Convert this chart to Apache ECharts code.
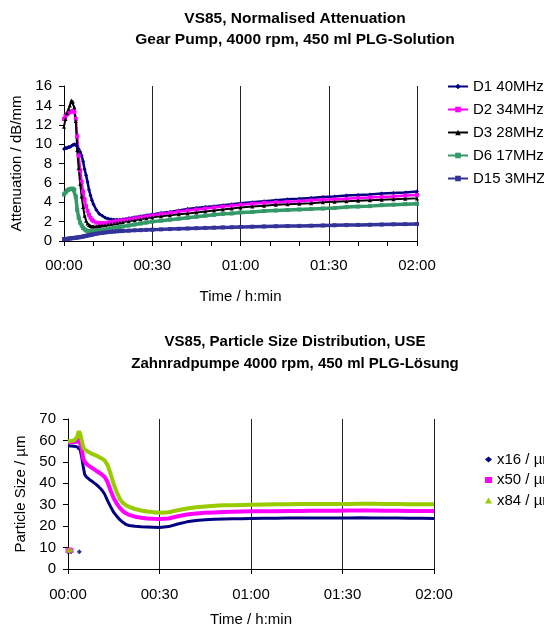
<!DOCTYPE html>
<html>
<head>
<meta charset="utf-8">
<script src="https://cdn.jsdelivr.net/npm/echarts@6/dist/echarts.min.js"></script>
<style>
  html, body { margin: 0; padding: 0; background: #fff; }
  #top, #bottom { position: absolute; left: 0; width: 544px; height: 314px; }
  #top { top: 0; }
  #bottom { top: 314px; }
</style>
</head>
<body>
<div id="top"></div>
<div id="bottom"></div>
<script>
// time in minutes since start
var minutes = [0,0.5,1,1.5,2,2.5,3,3.5,4,4.5,5,5.5,6,6.5,7,7.5,8,8.5,9,9.5,10,11,12,13,14,15,16,17,18,19,20,22,24,26,28,30,33,36,39,42,45,48,51,54,57,60,64,68,72,76,80,84,88,92,96,100,104,108,112,116,120];

// attenuation, dB/mm
var d1 = [9.5,9.6,9.6,9.7,9.7,9.8,9.9,10.0,9.9,9.8,9.5,9.2,8.8,8.2,7.4,6.8,6.1,5.3,4.7,4.2,3.8,3.2,2.8,2.6,2.4,2.3,2.25,2.2,2.2,2.2,2.25,2.35,2.45,2.55,2.65,2.75,2.9,3.0,3.15,3.3,3.4,3.5,3.6,3.7,3.8,3.9,4.0,4.1,4.2,4.3,4.35,4.45,4.55,4.6,4.7,4.75,4.8,4.9,4.95,5.0,5.1];
var d2 = [12.6,12.9,13.1,13.2,13.3,13.4,13.4,13.3,12.6,10.8,8.8,7.3,6.1,5.1,4.3,3.6,3.1,2.7,2.4,2.2,2.05,1.9,1.85,1.85,1.85,1.9,1.95,2.0,2.05,2.1,2.15,2.25,2.35,2.45,2.55,2.65,2.8,2.9,3.05,3.15,3.25,3.35,3.45,3.55,3.65,3.75,3.85,3.95,4.0,4.05,4.1,4.2,4.25,4.3,4.35,4.45,4.5,4.55,4.6,4.7,4.75];
var d3 = [11.8,12.6,13.2,13.6,14.0,14.5,14.4,13.8,12.4,9.4,7.5,5.9,4.6,3.5,2.6,2.1,1.8,1.65,1.55,1.5,1.5,1.5,1.55,1.6,1.65,1.7,1.75,1.8,1.85,1.9,1.95,2.05,2.15,2.25,2.35,2.45,2.55,2.65,2.75,2.85,2.95,3.05,3.15,3.25,3.35,3.45,3.55,3.65,3.75,3.8,3.85,3.9,4.0,4.05,4.1,4.15,4.2,4.25,4.3,4.35,4.4];
var d6 = [4.8,5.0,5.2,5.3,5.35,5.4,5.4,5.3,4.6,3.2,2.4,1.9,1.6,1.35,1.2,1.1,1.0,1.0,1.0,1.0,1.0,1.05,1.1,1.15,1.2,1.25,1.3,1.35,1.4,1.45,1.5,1.6,1.7,1.8,1.9,2.0,2.1,2.2,2.3,2.4,2.5,2.6,2.7,2.8,2.85,2.95,3.0,3.1,3.15,3.2,3.25,3.3,3.35,3.4,3.5,3.55,3.6,3.7,3.75,3.8,3.85];
var d15 = [0.2,0.2,0.22,0.24,0.26,0.28,0.3,0.32,0.34,0.36,0.38,0.4,0.43,0.46,0.5,0.53,0.56,0.6,0.63,0.66,0.7,0.75,0.8,0.84,0.88,0.92,0.95,0.98,1.0,1.02,1.04,1.07,1.1,1.12,1.15,1.17,1.2,1.23,1.26,1.29,1.32,1.35,1.38,1.4,1.42,1.45,1.48,1.5,1.52,1.54,1.56,1.58,1.6,1.62,1.64,1.66,1.68,1.7,1.72,1.74,1.75];

// particle size, µm
var x16 = [57.5,57.5,57.4,57.3,57.3,57.2,57.0,56.5,55.5,52.3,47.7,44.0,43.0,42.3,41.8,41.3,40.8,40.2,39.7,39.2,38.5,37.0,35.0,31.8,29.0,26.4,24.6,23.0,21.8,20.8,20.3,19.9,19.7,19.6,19.5,19.4,19.8,21.0,22.0,22.6,23.0,23.2,23.3,23.4,23.5,23.6,23.7,23.7,23.8,23.8,23.8,23.8,23.8,23.8,23.9,23.8,23.8,23.8,23.7,23.7,23.6];
var x50 = [59.0,59.0,59.2,59.3,59.3,59.4,59.5,61.0,60.5,56.0,51.5,50.0,49.2,48.5,48.0,47.5,47.0,46.6,46.2,45.6,45.0,44.2,43.0,40.5,36.5,33.0,30.5,28.5,27.0,26.0,25.3,24.4,23.9,23.6,23.4,23.3,23.6,24.6,25.4,25.9,26.2,26.4,26.6,26.7,26.8,26.9,27.0,27.0,27.1,27.1,27.2,27.2,27.2,27.3,27.3,27.3,27.2,27.2,27.1,27.1,27.1];
var x84 = [59.5,59.6,59.8,60.0,60.0,60.2,61.5,64.3,63.0,60.0,56.8,55.8,55.2,54.8,54.4,54.0,53.7,53.4,53.1,52.8,52.4,51.6,50.7,48.5,44.2,39.5,35.8,32.7,30.8,29.8,29.0,28.0,27.3,26.8,26.5,26.2,26.5,27.4,28.2,28.8,29.2,29.5,29.7,29.8,29.9,30.0,30.1,30.2,30.2,30.3,30.3,30.3,30.3,30.3,30.4,30.4,30.3,30.3,30.2,30.2,30.2];

// stray low readings at the very start
var lowMinutes = [0, 0.5, 1, 3.7];
var x16Low = [8.0, 8.3, 8.1, 8.0];
var x50Low = [8.6, 8.9, 8.7, null];
var x84Low = [8.8, 9.1, 8.9, null];

var font = 'Liberation Sans, Arial, sans-serif';

function pairs(xs, ys) {
  var out = [];
  for (var i = 0; i < xs.length; i++) {
    if (ys[i] != null) out.push([xs[i], ys[i]]);
  }
  return out;
}

function hhmm(v) {
  var h = Math.floor(v / 60), m = v % 60;
  return (h < 10 ? '0' : '') + h + ':' + (m < 10 ? '0' : '') + m;
}

function timeAxis(minor, gap, margin) {
  return {
    type: 'value', min: 0, max: 120, interval: 30,
    name: 'Time / h:min', nameLocation: 'middle', nameGap: gap,
    nameTextStyle: { fontFamily: font, fontSize: 15, color: '#000' },
    axisLine: { lineStyle: { color: '#000', width: 1 } },
    axisTick: { show: true, length: 5, lineStyle: { color: '#000' } },
    minorTick: { show: minor, splitNumber: 3, length: 5, lineStyle: { color: '#000' } },
    splitLine: { show: true, lineStyle: { color: '#222', width: 1 } },
    axisLabel: { formatter: hhmm, fontFamily: font, fontSize: 15, color: '#000', margin: margin }
  };
}

function valueAxis(name, max, interval, gap) {
  return {
    type: 'value', min: 0, max: max, interval: interval,
    name: name, nameLocation: 'middle', nameGap: gap,
    nameTextStyle: { fontFamily: font, fontSize: 15, color: '#000' },
    axisLine: { show: true, lineStyle: { color: '#000', width: 1 } },
    axisTick: { show: true, length: 5, lineStyle: { color: '#000' } },
    splitLine: { show: false },
    axisLabel: { fontFamily: font, fontSize: 15, color: '#000', margin: 12 }
  };
}

function attLine(name, ys, color, symbol, width) {
  return {
    name: name, type: 'line', data: pairs(minutes, ys),
    symbol: symbol, symbolSize: 4, showSymbol: true,
    itemStyle: { color: color }, lineStyle: { color: color, width: width },
    animation: false
  };
}

var chartTop = echarts.init(document.getElementById('top'));
chartTop.setOption({
  animation: false,
  title: {
    text: 'VS85, Normalised Attenuation\nGear Pump, 4000 rpm, 450 ml PLG-Solution',
    left: 290, top: 3, textAlign: 'center',
    textStyle: { fontFamily: font, fontSize: 15.5, fontWeight: 'bold', lineHeight: 21, color: '#000' }
  },
  legend: {
    orient: 'vertical', left: 442, top: 74,
    itemWidth: 20, itemHeight: 7, itemGap: 8,
    textStyle: { fontFamily: font, fontSize: 15, color: '#000' },
    data: ['D1 40MHz', 'D2 34MHz', 'D3 28MHz', 'D6 17MHz', 'D15 3MHZ']
  },
  grid: { left: 64, right: 127, top: 86, bottom: 73 },
  xAxis: timeAxis(true, 48, 17),
  yAxis: valueAxis('Attenuation / dB/mm', 16, 2, 36),
  series: [
    attLine('D1 40MHz', d1, '#000080', 'diamond', 2.5),
    attLine('D2 34MHz', d2, '#ff00ff', 'rect', 2.5),
    attLine('D3 28MHz', d3, '#000000', 'triangle', 2),
    attLine('D6 17MHz', d6, '#339966', 'rect', 3.5),
    attLine('D15 3MHZ', d15, '#333399', 'rect', 3.5)
  ]
});

function sizeLine(name, ys, color, width) {
  return {
    name: name, type: 'line', data: pairs(minutes, ys),
    showSymbol: false, symbol: 'none',
    itemStyle: { color: color }, lineStyle: { color: color, width: width },
    animation: false
  };
}
function sizeLow(name, ys, color, symbol) {
  return {
    name: name, type: 'scatter', data: pairs(lowMinutes, ys),
    symbol: symbol, symbolSize: 5,
    itemStyle: { color: color }, animation: false
  };
}

var chartBottom = echarts.init(document.getElementById('bottom'));
chartBottom.setOption({
  animation: false,
  title: {
    text: 'VS85, Particle Size Distribution, USE\nZahnradpumpe 4000 rpm, 450 ml PLG-Lösung',
    left: 290, top: 12, textAlign: 'center',
    textStyle: { fontFamily: font, fontSize: 15, fontWeight: 'bold', lineHeight: 22, color: '#000' }
  },
  legend: {
    orient: 'vertical', left: 480, top: 133,
    itemWidth: 7, itemHeight: 6, itemGap: 5.5,
    textStyle: { fontFamily: font, fontSize: 15, color: '#000' },
    data: [
      { name: 'x16 / µm', icon: 'diamond' },
      { name: 'x50 / µm', icon: 'rect' },
      { name: 'x84 / µm', icon: 'triangle' }
    ]
  },
  grid: { left: 68, right: 110, top: 105, bottom: 54 },
  xAxis: timeAxis(false, 43, 18),
  yAxis: valueAxis('Particle Size / µm', 70, 10, 35),
  series: [
    sizeLine('x16 / µm', x16, '#000080', 3),
    sizeLine('x50 / µm', x50, '#ff00ff', 4),
    sizeLine('x84 / µm', x84, '#99cc00', 4),
    sizeLow('x16 / µm', x16Low, '#000080', 'diamond'),
    sizeLow('x50 / µm', x50Low, '#ff00ff', 'rect'),
    sizeLow('x84 / µm', x84Low, '#99cc00', 'triangle')
  ]
});
</script>
</body>
</html>
